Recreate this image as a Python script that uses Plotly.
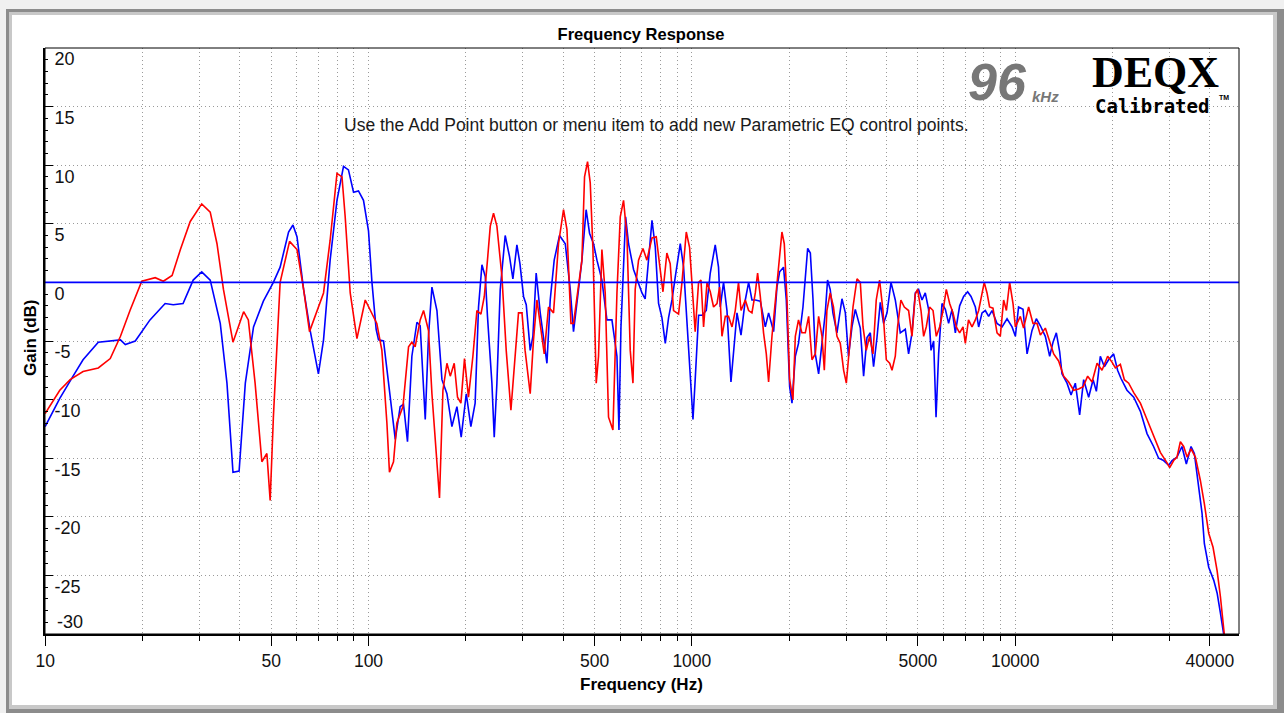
import plotly.graph_objects as go

# ---------------- data ----------------
blue_freq = [10.0, 11.1, 12.2, 13.1, 14.6, 17.1, 17.7, 19.0, 21.1, 23.5, 24.9, 26.7, 28.7, 30.5, 32.4, 34.8,
             36.5, 38.1, 39.8, 41.6, 44.1, 47.3, 50.8, 53.3, 56.6, 58.4, 60.1, 63.0, 66.0, 70.0, 72.6, 76.1,
             79.9, 83.7, 86.7, 89.9, 93.1, 96.5, 100, 102.5, 105.6, 107.4, 111.3, 115.3, 121, 125.3, 128.3,
             132, 136.2, 141.2, 144.5, 149.8, 153.3, 157.1, 162.8, 168.7, 174.8, 181.1, 187.7, 193.5, 200.6,
             207.3, 213.7, 218.9, 224.3, 229.7, 233.3, 240.8, 244.8, 249.5, 255.5, 264.7, 273, 279.6, 287.7,
             294, 301.6, 307.5, 316.3, 322.4, 330, 339.7, 347.7, 356.3, 364.7, 375.2, 389.7, 406, 420.6,
             430.5, 446.2, 457.1, 471, 482.6, 496.5, 508.7, 527, 546.2, 566, 586.6, 595, 603.6, 624, 637.1,
             660.2, 684.1, 701, 717, 734.7, 752.8, 770.7, 788.9, 808, 827.6, 847.2, 868, 888.8, 920.8, 942.7,
             961, 983.7, 1008, 1024, 1049, 1075, 1108, 1140, 1181, 1209, 1224, 1253, 1284, 1321, 1346, 1379,
             1419, 1463, 1498, 1534, 1571, 1628, 1687, 1727, 1790, 1833, 1868, 1921, 1959, 2006, 2040, 2089,
             2137, 2206, 2281, 2325, 2370, 2408, 2466, 2526, 2586, 2628, 2678, 2730, 2810, 2912, 2983, 3050,
             3127, 3202, 3318, 3397, 3480, 3563, 3647, 3737, 3825, 3916, 4013, 4129, 4257, 4411, 4571, 4680,
             4795, 4909, 5026, 5149, 5270, 5396, 5490, 5594, 5690, 5796, 5937, 6080, 6223, 6376, 6528, 6731,
             6925, 7125, 7300, 7528, 7707, 7895, 8080, 8276, 8478, 8785, 9104, 9434, 9776, 10010, 10240,
             10570, 10880, 11270, 11620, 11960, 12390, 12780, 13090, 13400, 13720, 13950, 14460, 14880,
             15340, 15820, 16280, 16870, 17410, 17820, 18330, 18860, 19440, 20150, 20730, 21240, 22160,
             23250, 24380, 25560, 26780, 27760, 28770, 29830, 30550, 31650, 32780, 33820, 34970, 35800,
             36900, 37820, 38450, 39660, 41090, 42100, 43100, 44110]
blue_gain = [-12.3, -9.9, -8.0, -6.6, -5.1, -4.9, -5.3, -5.0, -3.2, -1.8, -1.9, -1.8, 0.2, 0.9, 0.2, -3.5,
             -8.6, -16.2, -16.1, -8.6, -3.8, -1.6, 0.0, 1.3, 4.3, 4.9, 3.9, -0.6, -4.1, -7.8, -4.9, 1.9,
             7.0, 9.9, 9.6, 7.7, 7.8, 7.0, 4.4, 0.0, -4.0, -4.9, -5.0, -8.6, -13.4, -10.6, -10.4,
             -13.6, -6.3, -3.4, -3.7, -11.7, -4.6, -0.4, -2.4, -8.3, -9.5, -12.3, -10.6, -13.2, -9.5,
             -12.3, -10.3, -2.1, 1.5, 0.5, -2.9, -8.6, -13.2, -8.6, -0.6, 4.0, 2.2, 0.3, 3.2,
             1.6, -1.2, -1.9, -5.8, -4.6, 0.8, -2.6, -4.9, -6.9, -1.5, 1.9, 4.0, 3.3, -0.6,
             -4.2, -0.6, 1.9, 6.2, 4.2, 3.3, 1.9, 0.2, -3.2, -3.2, -6.3, -12.6, -3.8, 5.6, 3.3,
             1.1, 0.0, -0.9, -1.4, 1.9, 5.3, 3.0, -1.8, -3.0, -5.2, -3.0, -1.5, 0.5, 3.3, 1.3,
             -2.6, -6.6, -11.7, -8.3, -2.8, -2.8, -2.4, 0.8, 3.2, 1.3, -2.1, 0.0, -2.4, -8.5, -6.1, -2.6,
             -4.5, -1.5, 0.0, -1.5, -1.5, -1.6, -3.8, -2.6, -4.2, -0.4, 0.9, 1.3, -1.5, -8.9, -10.3, -6.3,
             -5.2, -2.1, 2.9, 2.5, -1.5, -6.1, -7.8, -5.2, -2.6, 0.2, -0.6, -2.6, -4.3, -1.4, -2.6, -6.3,
             -3.8, -2.3, -3.9, -8.0, -4.7, -4.3, -7.2, -4.7, -1.7, -3.5, -2.6, 0.0, -1.5, -4.3, -4.0, -6.1,
             -4.3, -0.9, -0.6, -1.5, -0.9, -2.3, -5.8, -5.0, -11.5, -6.1, -1.8, -2.3, -3.5, -2.3, -4.3, -2.0,
             -1.2, -0.8, -1.2, -2.1, -3.8, -2.6, -2.4, -2.9, -2.4, -3.5, -3.8, -3.1, -3.8, -4.6, -2.1,
             -2.3, -6.1, -4.1, -3.1, -3.7, -4.6, -6.3, -5.1, -4.3, -5.9, -7.8, -8.6, -9.6,
             -8.6, -11.3, -8.3, -9.8, -8.3, -9.3, -6.3, -7.2, -6.6, -6.1, -7.5, -8.2, -9.2,
             -9.8, -11.0, -12.9, -14.0, -15.0, -15.2, -15.6, -15.2, -14.9, -14.0, -15.5, -14.0, -14.6,
             -17.7, -19.7, -22.3, -24.3, -25.4, -26.5, -28.2, -30.0]

red_freq = [10.0, 11.1, 11.95, 13.1, 14.6, 15.9, 17.1, 18.3, 19.9, 21.9, 23.2, 24.7, 26.2, 28.1, 30.5, 32.4,
            34.0, 35.6, 38.1, 41.1, 42.5, 44.6, 46.8, 48.5, 49.65, 50.8, 53.3, 57.0, 60.1, 63.0, 65.7, 69.3,
            72.6, 76.1, 79.9, 82.8, 84.7, 87.8, 92.1, 97.7, 102.5, 106.1, 110.0, 114.0, 116.1, 119.5, 122.4,
            127.8, 133.0, 136.2, 139.4, 144.5, 148.0, 153.3, 157.1, 162.0, 165.8, 169.9, 174.8, 179.0, 184.1,
            188.5, 193.1, 198.1, 203.8, 210.3, 216.4, 222.7, 228.1, 233.3, 238.0, 243.6, 249.5, 258.6, 266.6,
            275.7, 284.2, 291.0, 298.3, 305.0, 316.3, 323.8, 331.8, 341.4, 349.5, 360.3, 373.4, 386.9, 401.0,
            410.9, 422.7, 430.5, 446.2, 457.1, 465.7, 475.8, 485.0, 494.4, 506.1, 514.5, 527, 539.6, 552.5,
            570.0, 586.6, 600.6, 614.8, 630.0, 644.8, 657.4, 668.0, 684.1, 706.0, 726.0, 752.8, 776.0, 794.0,
            814.0, 837.0, 857.0, 877.9, 909.7, 932.0, 961, 983.7, 1000, 1024, 1049, 1067, 1087, 1114, 1140,
            1167, 1196, 1218, 1239, 1269, 1298, 1331, 1362, 1394, 1419, 1463, 1498, 1534, 1571, 1597, 1628,
            1666, 1699, 1727, 1769, 1811, 1855, 1899, 1931, 1969, 2006, 2054, 2089, 2137, 2189, 2243, 2297,
            2352, 2408, 2466, 2526, 2568, 2616, 2678, 2741, 2810, 2877, 2947, 3004, 3075, 3150, 3241, 3318,
            3383, 3462, 3545, 3631, 3717, 3807, 3899, 3993, 4090, 4159, 4257, 4327, 4430, 4539, 4680, 4795,
            4909, 4990, 5112, 5209, 5308, 5435, 5570, 5700, 5837, 5980, 6122, 6270, 6420, 6574, 6731, 6895,
            7010, 7170, 7352, 7528, 7707, 7895, 8020, 8180, 8330, 8535, 8785, 8990, 9208, 9390, 9610, 9844,
            10010, 10370, 10610, 11000, 11350, 11680, 11960, 12390, 12780, 13150, 13620, 14120, 14630, 15160,
            15710, 16220, 16750, 17280, 17910, 18550, 19310, 19920, 20400, 21140, 21750, 22430, 23250, 24380,
            25560, 26780, 28100, 29480, 30040, 30900, 31650, 32410, 33180, 34000, 34970, 36070, 37370, 38450,
            39660, 40900, 42100, 43100, 44300]
red_gain = [-11.2, -9.2, -8.3, -7.6, -7.3, -6.5, -4.6, -2.4, 0.1, 0.4, 0.1, 0.6, 2.8, 5.2, 6.7, 6.0,
            3.3, -0.6, -5.1, -2.5, -3.2, -8.6, -15.3, -14.6, -18.6, -11.5, 0.0, 3.5, 2.8, -0.6, -4.2, -2.4,
            -0.9, 3.6, 9.3, 9.0, 5.6, -0.9, -4.8, -1.5, -2.6, -3.5, -5.8, -12.0, -16.2, -15.3, -12.0,
            -10.6, -5.5, -5.1, -5.5, -3.2, -2.4, -4.1, -9.5, -14.3, -18.4, -9.2, -6.9, -8.0, -6.9,
            -9.8, -10.3, -6.5, -9.8, -6.3, -2.4, -2.7, -1.2, 1.9, 4.8, 5.9, 4.8, 0.5, -5.8,
            -10.9, -5.8, -2.6, -2.6, -5.8, -9.5, -4.9, -1.5, -4.1, -6.1, -2.1, -2.6, 3.3, 6.2,
            4.5, -3.5, -3.5, -0.4, 1.9, 9.0, 10.3, 8.5, 2.8, -8.6, -6.3, 2.8, -0.9, -11.5,
            -12.6, -0.9, 5.6, 7.0, 3.9, -5.8, -8.6, -0.6, 1.9, 2.9, 1.9, 3.8, 3.9, 1.6,
            -0.8, 2.5, 1.6, -2.4, -2.7, 0.0, 4.3, 3.0, 0.0, -4.2, 0.0, 0.2, -3.8, 0.0, -0.8,
            -2.1, -1.8, -0.4, -4.6, -2.9, -2.9, -3.8, -2.4, 0.0, -2.4, -1.5, -2.4, -2.6, -0.9, 0.8, -1.2,
            -4.3, -6.1, -8.5, -4.6, -1.5, 1.8, 4.3, 3.3, -1.5, -8.3, -10.0, -4.6, -3.2, -4.3, -4.3, -2.9,
            -6.6, -6.1, -2.9, -4.6, -7.5, -2.4, -0.9, -2.1, -4.6, -5.2, -7.5, -8.6, -5.2, -2.1, 0.3, 0.0,
            -3.8, -5.8, -4.6, -6.1, -1.5, 0.2, -2.4, -6.6, -6.9, -7.5, -6.3, -3.8, -1.5, -2.1, -2.4, -4.6,
            -1.0, -0.6, -2.4, -4.6, -3.8, -2.1, -2.4, -4.6, -3.8, -2.4, -0.6, -1.8, -2.6, -3.8, -4.3, -3.8,
            -5.2, -3.2, -3.8, -3.2, -2.4, -0.8, 0.0, -0.9, -2.1, -2.2, -4.3, -4.6, -1.5, -2.4, 0.0, -1.8,
            -3.8, -2.9, -3.9, -2.1, -3.5, -3.5, -4.5, -3.9, -5.0, -6.1, -6.7, -8.0, -8.5, -9.2,
            -9.1, -8.9, -8.0, -8.5, -6.9, -7.5, -6.3, -6.8, -7.3, -7.0, -8.3, -8.6, -9.4, -10.3,
            -11.7, -13.1, -14.5, -15.4, -15.8, -15.2, -14.9, -13.6, -14.0, -14.9, -14.2, -14.9, -16.9, -18.9,
            -21.4, -22.6, -24.6, -26.8, -30.0]

x_tick_vals = [10, 50, 100, 500, 1000, 5000, 10000, 40000]
x_tick_text = ["10", "50", "100", "500", "1000", "5000", "10000", "40000"]
x_minor_vals = [20, 30, 40, 60, 70, 80, 90, 200, 300, 400, 600, 700, 800, 900,
                2000, 3000, 4000, 6000, 7000, 8000, 9000, 20000, 30000]
y_tick_vals = [20, 15, 10, 5, 0, -5, -10, -15, -20, -25, -30]
y_tick_text = ["20", "15", "10", "5", "0", "-5", "-10", "-15", "-20", "-25", ""]

# ---------------- layout helpers (pixel -> paper) ----------------
W, H = 1284, 713
L, R, T, B = 45, 1239, 48, 634


def pxx(px):
    return (px - L) / (R - L)


def pxy(py):
    return (B - py) / (B - T)


FONT = "Arial, Liberation Sans, sans-serif"
GRID = "#9a9a9a"
GDASH = "1px,3px"

fig = go.Figure()
fig.add_trace(go.Scatter(x=blue_freq, y=blue_gain, mode="lines", name="Right",
                         line=dict(color="#0000ff", width=1.6), showlegend=False))
fig.add_trace(go.Scatter(x=red_freq, y=red_gain, mode="lines", name="Left",
                         line=dict(color="#ff0000", width=1.6), showlegend=False))

fig.add_hline(y=0, line=dict(color="#0000ff", width=1.6))

shapes = [
    # window frame
    dict(type="rect", xref="paper", yref="paper", x0=pxx(6), x1=pxx(1284), y0=pxy(713), y1=pxy(9),
         fillcolor="#8c8c8c", line=dict(width=0), layer="below"),
    dict(type="rect", xref="paper", yref="paper", x0=pxx(9), x1=pxx(1277), y0=pxy(709), y1=pxy(12),
         fillcolor="#c8c8c8", line=dict(width=0), layer="below"),
    dict(type="rect", xref="paper", yref="paper", x0=pxx(12), x1=pxx(1273), y0=pxy(705), y1=pxy(15),
         fillcolor="#ffffff", line=dict(width=0), layer="below"),
    # plot border (top / right thin)
    dict(type="rect", xref="paper", yref="paper", x0=0, x1=1, y0=0, y1=1,
         line=dict(color="#000000", width=1), layer="above"),
]
fig.update_layout(shapes=list(fig.layout.shapes) + shapes)

annotations = [
    dict(text="<b>Gain (dB)</b>", x=pxx(30), y=pxy(338), textangle=-90,
         font=dict(family=FONT, size=17, color="#000000")),
    dict(text="<b>Frequency (Hz)</b>", x=pxx(641), y=pxy(684),
         font=dict(family=FONT, size=17, color="#000000")),
    dict(text="Use the Add Point button or menu item to add new Parametric EQ control points.",
         x=pxx(656), y=pxy(125), font=dict(family=FONT, size=17.5, color="#1a1a1a")),
    dict(text="-30", x=pxx(55), y=pxy(622), xanchor="left",
         font=dict(family=FONT, size=18, color="#111111")),
    dict(text="<b><i>96</i></b>", x=pxx(997), y=pxy(82),
         font=dict(family=FONT, size=52, color="#777777")),
    dict(text="<b><i>kHz</i></b>", x=pxx(1045), y=pxy(96),
         font=dict(family=FONT, size=15, color="#777777")),
    dict(text="<b>DEQX</b>", x=pxx(1155), y=pxy(73),
         font=dict(family="Liberation Serif, serif", size=44, color="#000000")),
    dict(text="<b>Calibrated</b>", x=pxx(1152), y=pxy(106),
         font=dict(family="DejaVu Sans Mono, monospace", size=19, color="#000000")),
    dict(text="<b>TM</b>", x=pxx(1224), y=pxy(97),
         font=dict(family=FONT, size=7, color="#000000")),
]
for a in annotations:
    a.update(xref="paper", yref="paper", showarrow=False, xanchor=a.get("xanchor", "center"),
             yanchor="middle")
fig.update_layout(annotations=annotations)

fig.update_layout(
    width=W, height=H,
    margin=dict(l=L, r=W - R, t=T, b=H - B, pad=0),
    paper_bgcolor="#f0f0f0",
    plot_bgcolor="rgba(0,0,0,0)",
    title=dict(text="<b>Frequency Response</b>", x=pxx(641), xref="paper", y=1 - 34 / H, yref="container",
               xanchor="center", yanchor="middle", font=dict(family=FONT, size=16.5, color="#000000")),
    xaxis=dict(type="log", range=[0.9996, 4.692], tickmode="array", tickvals=x_tick_vals, ticktext=x_tick_text,
               ticks="outside", ticklen=10, tickwidth=1, tickcolor="#000000",
               showline=True, linewidth=2, linecolor="#000000", mirror=False,
               showgrid=True, gridcolor=GRID, griddash=GDASH, gridwidth=1, zeroline=False,
               tickfont=dict(family=FONT, size=17.5, color="#111111"),
               minor=dict(tickmode="array", tickvals=x_minor_vals, ticks="outside", ticklen=5,
                          tickcolor="#000000", showgrid=True, gridcolor=GRID, griddash=GDASH)),
    yaxis=dict(range=[-30, 20], tickmode="array", tickvals=y_tick_vals, ticktext=y_tick_text,
               ticks="inside", ticklen=8, tickwidth=1, tickcolor="#000000",
               ticklabelposition="inside", ticklabelshift=11, ticklabelstandoff=2,
               ticklabeloverflow="allow",
               showline=True, linewidth=2, linecolor="#000000", mirror=False,
               showgrid=True, gridcolor=GRID, griddash=GDASH, gridwidth=1, zeroline=False,
               tickfont=dict(family=FONT, size=18, color="#111111"),
               minor=dict(dtick=1, ticks="inside", ticklen=3, tickcolor="#000000", showgrid=False)),
)

fig.write_html("out.html", config={"displayModeBar": False},
               post_script="document.body.style.margin='0px';document.body.style.overflow='hidden';")
